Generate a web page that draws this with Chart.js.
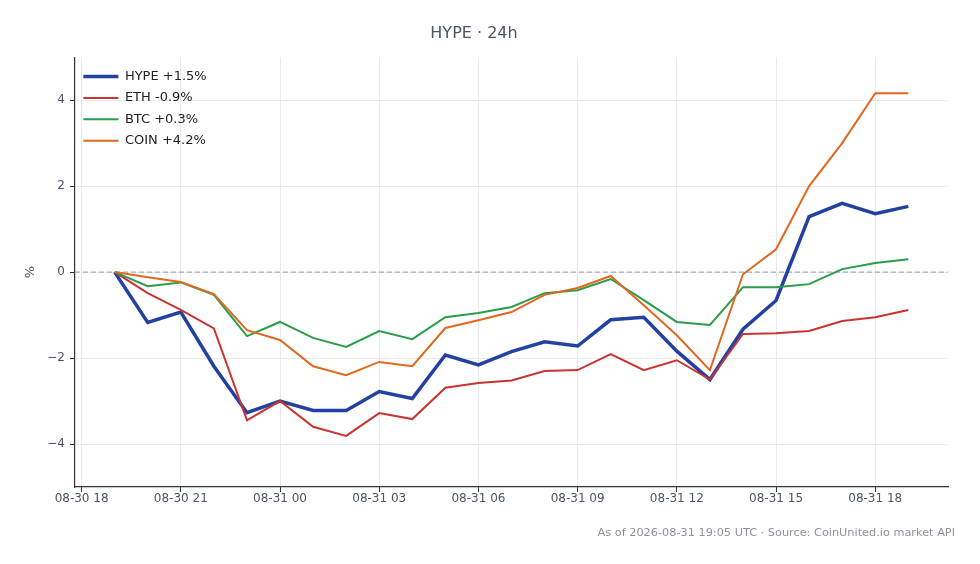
<!DOCTYPE html>
<html>
<head>
<meta charset="utf-8">
<script src="https://cdn.jsdelivr.net/npm/chart.js@4"></script>
<style>
  html, body { margin: 0; padding: 0; background: #fff; }
  #wrap { width: 980px; height: 564px; }
</style>
</head>
<body>
<div id="wrap"><canvas id="chart" width="980" height="564"></canvas></div>
<script>
// hours after 08-30 18:00, one point per hour
var hours = [1, 2, 3, 4, 5, 6, 7, 8, 9, 10, 11, 12, 13, 14, 15, 16, 17, 18, 19, 20, 21, 22, 23, 24, 25]
var tickHours = [0, 3, 6, 9, 12, 15, 18, 21, 24]
var tickLabels = ['08-30 18', '08-30 21', '08-31 00', '08-31 03', '08-31 06', '08-31 09', '08-31 12', '08-31 15', '08-31 18']

var hype = [0, -1.17, -0.93, -2.19, -3.27, -3.0, -3.22, -3.22, -2.78, -2.94, -1.93, -2.16, -1.85, -1.62, -1.72, -1.11, -1.05, -1.84, -2.5, -1.33, -0.66, 1.29, 1.6, 1.36, 1.53]
var eth = [0, -0.49, -0.88, -1.31, -3.45, -3.0, -3.6, -3.81, -3.28, -3.42, -2.69, -2.58, -2.52, -2.3, -2.28, -1.91, -2.28, -2.05, -2.5, -1.44, -1.42, -1.37, -1.14, -1.05, -0.88]
var btc = [0, -0.33, -0.24, -0.53, -1.49, -1.16, -1.53, -1.74, -1.37, -1.56, -1.05, -0.95, -0.81, -0.49, -0.42, -0.16, -0.65, -1.16, -1.23, -0.35, -0.35, -0.28, 0.07, 0.21, 0.3]
var coin = [0, -0.12, -0.23, -0.51, -1.35, -1.58, -2.19, -2.4, -2.09, -2.19, -1.3, -1.12, -0.93, -0.53, -0.37, -0.09, -0.77, -1.47, -2.28, -0.05, 0.53, 2.0, 3.0, 4.16, 4.16]

var seriesNames = ['HYPE +1.5%', 'ETH -0.9%', 'BTC +0.3%', 'COIN +4.2%']
var seriesColors = ['#2341a0', '#c93431', '#2a9d4a', '#e0681f']
var seriesWidths = [3.5, 2, 2, 2]
var seriesValues = [hype, eth, btc, coin]

var fontFamily = "'DejaVu Sans', sans-serif"
var textColor = '#4a5566'

function points(values) {
    return hours.map((h, i) => ({ x: h, y: values[i] }))
}

var datasets = seriesValues.map((vals, i) => ({
    label: seriesNames[i],
    data: points(vals),
    borderColor: seriesColors[i],
    backgroundColor: seriesColors[i],
    borderWidth: seriesWidths[i],
    pointRadius: 0,
    pointHoverRadius: 0,
    tension: 0,
    fill: false,
    order: seriesValues.length - i   // later series drawn on top, like the original
}))

// dashed zero line, drawn under the series
var zeroLine = {
    id: 'zeroLine',
    beforeDatasetsDraw(chart) {
        var c = chart.ctx, area = chart.chartArea
        var y = chart.scales.y.getPixelForValue(0)
        c.save()
        c.strokeStyle = '#8d9bb0'
        c.lineWidth = 1
        c.setLineDash([5, 3])
        c.beginPath()
        c.moveTo(area.left, y)
        c.lineTo(area.right, y)
        c.stroke()
        c.restore()
    }
}

var footer = {
    id: 'footer',
    afterDraw(chart) {
        var c = chart.ctx
        c.save()
        c.font = "11.3px " + fontFamily
        c.fillStyle = '#8a929e'
        c.textAlign = 'right'
        c.textBaseline = 'middle'
        c.fillText('As of 2026-08-31 19:05 UTC \u00b7 Source: CoinUnited.io market API', chart.width - 25, 533)
        c.restore()
    }
}

var ctx = document.getElementById('chart').getContext('2d')
var lineChart = new Chart(ctx, {
    type: 'line',
    data: { datasets: datasets },
    plugins: [zeroLine, footer],
    options: {
        responsive: false,
        animation: false,
        events: [],
        layout: { padding: { top: 0, right: 32, bottom: 47, left: 0 } },
        plugins: {
            title: {
                display: true,
                text: 'HYPE \u00b7 24h',
                color: textColor,
                font: { family: fontFamily, size: 16, weight: 'normal' },
                padding: { top: 24, bottom: 14 }
            },
            legend: {
                position: 'chartArea',
                align: 'start',
                // empty title only pushes the entries down into the plot
                title: { display: true, text: '', font: { size: 13 }, padding: { top: 46, bottom: 0 } },
                labels: {
                    usePointStyle: true,
                    pointStyle: 'line',
                    pointStyleWidth: 35,
                    color: '#222',
                    font: { family: fontFamily, size: 13 },
                    padding: 8.4,
                    sort: (a, b) => a.datasetIndex - b.datasetIndex
                }
            },
            tooltip: { enabled: false }
        },
        scales: {
            x: {
                type: 'linear',
                min: -0.2,
                max: 26.2,
                afterBuildTicks: (scale) => { scale.ticks = tickHours.map(v => ({ value: v })) },
                afterFit: (scale) => { scale.height = 30 },
                ticks: {
                    autoSkip: false,
                    maxRotation: 0,
                    color: textColor,
                    font: { family: fontFamily, size: 12 },
                    padding: 0,
                    callback: (v) => tickLabels[tickHours.indexOf(v)]
                },
                grid: { color: '#e8eaee', tickColor: '#333', tickLength: 5 },
                border: { color: '#333', width: 1.2 }
            },
            y: {
                min: -5,
                max: 5,
                afterBuildTicks: (scale) => { scale.ticks = [-4, -2, 0, 2, 4].map(v => ({ value: v })) },
                afterFit: (scale) => { scale.width = 75 },
                title: {
                    display: true,
                    text: '%',
                    color: textColor,
                    font: { family: fontFamily, size: 13 },
                    padding: { top: 23, bottom: 0 }
                },
                ticks: {
                    color: textColor,
                    font: { family: fontFamily, size: 12 },
                    padding: 5,
                    callback: (v) => String(v).replace('-', '\u2212')
                },
                grid: { color: '#e8eaee', tickColor: '#333', tickLength: 5 },
                border: { color: '#333', width: 1.2 }
            }
        }
    }
})
</script>
</body>
</html>
